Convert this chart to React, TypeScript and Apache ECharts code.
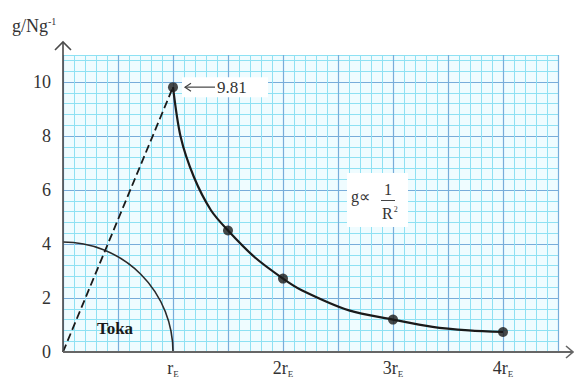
import React, { useEffect, useRef } from "react";
import * as echarts from "echarts";

// Measured points: distance from centre (in Earth radii) vs field strength g (N/kg)
const radiusMultiples = [1, 1.5, 2, 3, 4];
const gValues = [9.81, 4.5, 2.72, 1.2, 0.74];

// Points along the smooth 1/R² curve outside the Earth
const curveR = [1, 1.07, 1.19, 1.345, 1.5, 1.74, 2, 2.17, 2.6, 3, 3.36, 3.69, 4];
const curveG = [9.81, 7.96, 6.48, 5.25, 4.5, 3.52, 2.72, 2.29, 1.54, 1.2, 0.93, 0.8, 0.74];

// Inside the Earth g grows linearly from the centre to the surface
const insideR = [0, 1];
const insideG = [0, 9.81];

const yTickValues = [0, 2, 4, 6, 8, 10];
const xTickLabels = ["", "r", "2r", "3r", "4r"];

const surfaceValueLabel = "9.81";
const earthLabel = "Toka";
const earthRadiusX = 1; // quarter circle radius on the R axis

const SERIF = "Liberation Serif";
const MINOR = "#8ee1f3";
const MAJOR = "#78acda";
const INK = "#1a1a1a";
const TEXT = "#333333";

export default function App() {
  const ref = useRef<HTMLDivElement>(null);

  useEffect(() => {
    if (!ref.current) return;
    const chart = echarts.init(ref.current, undefined, { renderer: "svg" });

    const near = (a: number, b: number) => Math.abs(a - b) < 1e-6;

    const option: any = {
      animation: false,
      backgroundColor: "#ffffff",
      textStyle: { fontFamily: SERIF },
      grid: {
        left: 63,
        right: 16,
        top: 55,
        bottom: 26,
        show: true,
        backgroundColor: "#effcff",
        borderWidth: 0,
      },
      xAxis: [
        {
          type: "value",
          min: 0,
          max: 4.5,
          interval: 0.1,
          position: "bottom",
          axisLine: { show: false },
          axisTick: { show: false },
          axisLabel: { show: false },
          splitLine: { show: true, lineStyle: { color: MINOR, width: 1 } },
        },
        {
          type: "value",
          min: 0,
          max: 4.5,
          interval: 0.5,
          position: "bottom",
          axisLine: { show: false },
          axisTick: { show: false },
          axisLabel: {
            margin: 6,
            formatter: (v: number) => {
              const k = Math.round(v);
              if (!near(v, k) || k <= 0 || k >= xTickLabels.length) return "";
              return `{m|${xTickLabels[k]}}{s|E}`;
            },
            rich: {
              m: { fontFamily: SERIF, fontSize: 18, color: TEXT, lineHeight: 20 },
              s: {
                fontFamily: SERIF,
                fontSize: 9,
                color: TEXT,
                lineHeight: 20,
                verticalAlign: "bottom",
                padding: [10, 0, 0, 0],
              },
            },
          },
          splitLine: { show: true, lineStyle: { color: MAJOR, width: 1.2 } },
        },
      ],
      yAxis: [
        {
          type: "value",
          min: 0,
          max: 11,
          interval: 0.4,
          position: "left",
          axisLine: { show: false },
          axisTick: { show: false },
          axisLabel: { show: false },
          splitLine: { show: true, lineStyle: { color: MINOR, width: 1 } },
        },
        {
          type: "value",
          min: 0,
          max: 11,
          interval: 2,
          position: "left",
          axisLine: { show: false },
          axisTick: { show: false },
          axisLabel: {
            margin: 12,
            fontFamily: SERIF,
            fontSize: 18,
            color: TEXT,
            formatter: (v: number) =>
              yTickValues.some((t) => near(t, v)) ? String(v) : "",
          },
          splitLine: {
            show: true,
            lineStyle: {
              color: [MAJOR, MAJOR, MAJOR, MAJOR, MAJOR, MAJOR, "transparent"],
              width: 1.2,
            },
          },
        },
      ],
      series: [
        {
          type: "line",
          name: "inside",
          data: insideR.map((r, i) => [r, insideG[i]]),
          symbol: "none",
          lineStyle: { color: INK, width: 1.8, type: [8, 4] },
          z: 3,
        },
        {
          type: "line",
          name: "curve",
          data: curveR.map((r, i) => [r, curveG[i]]),
          symbol: "none",
          smooth: 0.3,
          lineStyle: { color: INK, width: 2.2 },
          z: 3,
        },
        {
          type: "scatter",
          name: "points",
          data: radiusMultiples.map((r, i) => [r, gValues[i]]),
          symbolSize: 10,
          itemStyle: { color: INK },
          z: 5,
        },
      ],
    };

    chart.setOption(option);

    const px = (x: number, y: number) =>
      chart.convertToPixel({ xAxisIndex: 0, yAxisIndex: 0 }, [x, y]) as number[];

    const origin = px(0, 0);
    const top = px(0, 11);
    const right = px(4.5, 0);
    const rim = px(earthRadiusX, 0);
    const arcR = rim[0] - origin[0];
    const dot = px(radiusMultiples[0], gValues[0]);

    const axisColor = "#4a4a4a";
    const txt = (size: number, extra: any = {}) => ({
      fontFamily: SERIF,
      fontSize: size,
      fill: TEXT,
      ...extra,
    });

    const graphic: any[] = [
      // Earth outline: quarter circle around the centre
      {
        type: "arc",
        shape: {
          cx: origin[0],
          cy: origin[1],
          r: arcR,
          startAngle: -Math.PI / 2,
          endAngle: 0,
          clockwise: true,
        },
        style: { stroke: "#2a2a2a", lineWidth: 1.6, fill: "none" },
        z: 2,
      },
      {
        type: "text",
        x: 115,
        y: 328,
        style: {
          text: earthLabel,
          ...txt(17, { fontWeight: "bold", fill: "#1a1a1a" }),
          align: "center",
          verticalAlign: "middle",
        },
        z: 4,
      },
      // Axes with open arrow heads
      {
        type: "line",
        shape: { x1: origin[0], y1: origin[1], x2: origin[0], y2: top[1] - 13 },
        style: { stroke: axisColor, lineWidth: 1.6 },
        z: 6,
      },
      {
        type: "polyline",
        shape: {
          points: [
            [origin[0] - 8, top[1] - 5],
            [origin[0], top[1] - 13],
            [origin[0] + 8, top[1] - 5],
          ],
        },
        style: { stroke: axisColor, lineWidth: 1.6, fill: "none" },
        z: 6,
      },
      {
        type: "line",
        shape: { x1: origin[0], y1: origin[1], x2: right[0] + 15, y2: origin[1] },
        style: { stroke: "#666", lineWidth: 2 },
        z: 6,
      },
      {
        type: "polyline",
        shape: {
          points: [
            [right[0] + 8, origin[1] - 6],
            [right[0] + 15, origin[1]],
            [right[0] + 8, origin[1] + 6],
          ],
        },
        style: { stroke: "#666", lineWidth: 1.6, fill: "none" },
        z: 6,
      },
      // Axis title
      {
        type: "text",
        x: 12,
        y: 16,
        style: {
          text: "{a|g/Ng}{b|-1}",
          rich: {
            a: { fontFamily: SERIF, fontSize: 18, fill: TEXT, lineHeight: 20 },
            b: {
              fontFamily: SERIF,
              fontSize: 10,
              fill: TEXT,
              lineHeight: 20,
              verticalAlign: "top",
              padding: [0, 0, 9, 0],
            },
          },
        },
      },
      // Surface value callout
      {
        type: "rect",
        shape: { x: dot[0] + 9, y: dot[1] - 10, width: 86, height: 20 },
        style: { fill: "#ffffff" },
        z: 4,
      },
      {
        type: "line",
        shape: { x1: dot[0] + 12, y1: dot[1], x2: dot[0] + 42, y2: dot[1] },
        style: { stroke: "#444", lineWidth: 1.2 },
        z: 5,
      },
      {
        type: "polyline",
        shape: {
          points: [
            [dot[0] + 18, dot[1] - 4],
            [dot[0] + 12, dot[1]],
            [dot[0] + 18, dot[1] + 4],
          ],
        },
        style: { stroke: "#444", lineWidth: 1.2, fill: "none" },
        z: 5,
      },
      {
        type: "text",
        x: dot[0] + 44,
        y: dot[1],
        style: { text: surfaceValueLabel, ...txt(17), verticalAlign: "middle" },
        z: 5,
      },
      // Inverse-square relation
      {
        type: "rect",
        shape: { x: 347, y: 173, width: 61, height: 54 },
        style: { fill: "#ffffff" },
        z: 4,
      },
      {
        type: "text",
        x: 351,
        y: 196,
        style: { text: "g\u221D", ...txt(16), verticalAlign: "middle" },
        z: 5,
      },
      {
        type: "text",
        x: 388,
        y: 189,
        style: { text: "1", ...txt(16), align: "center", verticalAlign: "middle" },
        z: 5,
      },
      {
        type: "line",
        shape: { x1: 381, y1: 200.5, x2: 395, y2: 200.5 },
        style: { stroke: "#444", lineWidth: 1 },
        z: 5,
      },
      {
        type: "text",
        x: 382,
        y: 205,
        style: {
          text: "{r|R}{p|2}",
          rich: {
            r: { fontFamily: SERIF, fontSize: 16, fill: TEXT, lineHeight: 16 },
            p: {
              fontFamily: SERIF,
              fontSize: 8,
              fill: TEXT,
              lineHeight: 16,
              verticalAlign: "top",
              padding: [0, 0, 6, 1],
            },
          },
        },
        z: 5,
      },
    ];

    chart.setOption({ graphic });

    return () => chart.dispose();
  }, []);

  return (
    <div
      ref={ref}
      style={{ position: "absolute", left: 0, top: 0, width: 574, height: 378 }}
    />
  );
}
